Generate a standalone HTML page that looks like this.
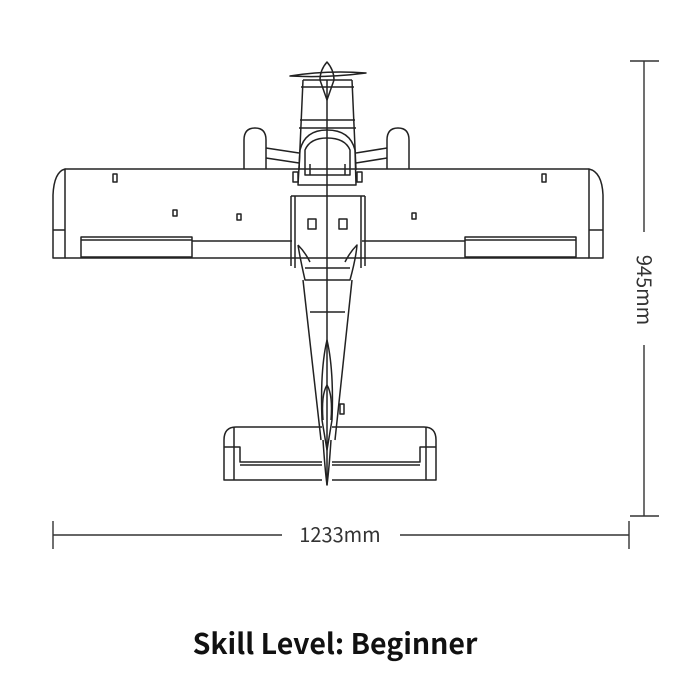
<!DOCTYPE html>
<html><head><meta charset="utf-8"><style>
html,body{margin:0;padding:0;background:#fff;width:686px;height:685px;overflow:hidden}
svg{display:block}
</style></head><body>
<svg width="686" height="685" viewBox="0 0 686 685" xmlns="http://www.w3.org/2000/svg">
<g fill="none" stroke="#222" stroke-width="1.5" stroke-linejoin="round">
<path d="M65 169 H589 M65 258 H589"/>
<path d="M65 169 Q54 172 53 195 V258 H65 Z"/>
<path d="M589 169 Q602 172 603 195 V258 H589 Z"/>
<path d="M53 230 H65 M589 230 H603"/>
<rect x="81" y="237" width="111" height="20"/>
<path d="M81 240 H192"/>
<rect x="465" y="237" width="111" height="20"/>
<path d="M465 240 H576"/>
<path d="M192 241 H292 M362 241 H465"/>
<rect x="113" y="174" width="4" height="8"/>
<rect x="542" y="174" width="4" height="8"/>
<rect x="173" y="210" width="4" height="6"/>
<rect x="237" y="214" width="4" height="6"/>
<rect x="412" y="213" width="4" height="6"/>
<path d="M244 169 V140 Q244 128 255 128 Q266 128 266 140 V169"/>
<path d="M387 169 V140 Q387 128 398 128 Q409 128 409 140 V169"/>
<path d="M266 148 L299 153 M266 158 L299 163"/>
<path d="M387 148 L356 153 M387 158 L356 163"/>
<path d="M303 80 L299 170 M352 80 L356 170 M303 80 H352"/>
<path d="M300 120 H355 M299 128 H356"/>
<path d="M301 87 H354"/>
<path d="M290 76 Q327 70 366 73 Q327 78 290 76 Z"/>
<path d="M327 62 Q320 70 320 80 L327 100 L334 80 Q334 70 327 62 Z"/>
<path d="M300 150 Q305 130 327 130 Q350 130 355 150 L356 185 H298 Z"/>
<path d="M305 150 Q310 138 327 138 Q345 138 350 150 V175 H305 Z"/>
<path d="M310 164 V175 M345 164 V175"/>
<rect x="293" y="172" width="5" height="10"/>
<rect x="357" y="172" width="5" height="10"/>
<path d="M291 196 H365 M291 196 V266 M365 196 V266 M295 196 V268 M361 196 V268"/>
<rect x="308" y="219" width="8" height="10"/>
<rect x="339" y="219" width="8" height="10"/>
<path d="M298 245 Q300 258 305 280 H350 Q356 258 357 245 Q350 252 345 262 M298 245 Q305 252 310 262"/>
<path d="M305 268 H350"/>
<path d="M327 80 V485"/>
<path d="M303 280 L321 440 M352 280 L335 440 M310 312 H345"/>
<path d="M327 340 Q320 370 322 420 L327 450 L332 420 Q334 370 327 340 Z"/>
<path d="M327 385 Q321 395 323 420 M327 385 Q333 395 331 420"/>
<rect x="340" y="404" width="4" height="10"/>
<path d="M322 427 H236 Q224 427 224 440 V480 H322 M332 427 H424 Q436 427 436 440 V480 H332"/>
<path d="M234 427 V480 M426 427 V480 M224 447 H234 M426 447 H436"/>
<path d="M234 447 H240 V462 H322 M426 447 H420 V462 H332 M240 465 H322 M420 465 H332"/>
<path d="M323 440 Q325 470 327 485 Q329 470 331 440"/>
</g>
<g stroke="#333" stroke-width="1.4" fill="none">
<path d="M644 61 V232 M644 345 V516 M630 61 H659 M630 516 H659"/>
<path d="M53 535 H282 M400 535 H629 M53 521 V549 M629 521 V549"/>
</g>
<text x="340" y="542" font-family="'Noto Sans CJK SC','Liberation Sans',sans-serif" font-size="20" fill="#333" text-anchor="middle">1233mm</text>
<text transform="translate(637,290) rotate(90)" font-family="'Noto Sans CJK SC','Liberation Sans',sans-serif" font-size="20" fill="#333" text-anchor="middle">945mm</text>
<text x="335" y="654" font-family="'Noto Sans CJK SC','Liberation Sans',sans-serif" font-weight="bold" font-size="28.5" fill="#111" text-anchor="middle">Skill Level: Beginner</text>
</svg>
</body></html>
